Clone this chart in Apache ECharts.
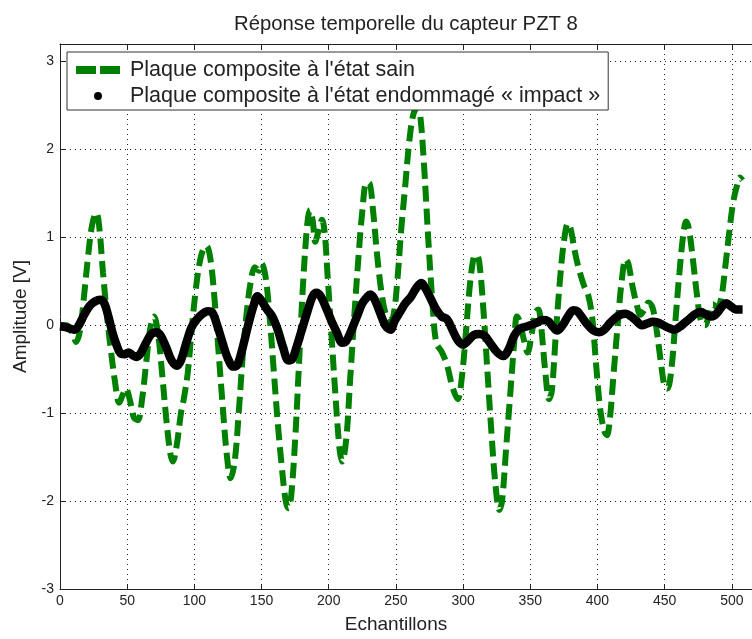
<!DOCTYPE html>
<html>
<head>
<meta charset="utf-8">
<script src="https://cdn.jsdelivr.net/npm/echarts@6/dist/echarts.min.js"></script>
<style>
  html, body { margin: 0; padding: 0; background: #fff; }
  #main { width: 752px; height: 639px; }
</style>
</head>
<body>
<div id="main"></div>
<script>
// échantillons / amplitudes
var healthySamples = [0, 5, 9, 12, 15, 18, 21, 24, 27, 29, 32, 35, 38, 41, 44, 47, 49, 52, 55, 58,
  61, 64, 67, 70, 73, 76, 79, 82, 84, 87, 90, 92, 95, 98, 101, 104, 107, 109, 112, 115,
  118, 121, 124, 127, 130, 133, 136, 139, 142, 145, 148, 150, 153, 156, 159, 162, 165, 168, 170, 172,
  175, 178, 181, 184, 186, 188, 190, 192, 195, 197, 199, 202, 205, 208, 210, 213, 216, 219, 222, 225,
  228, 230, 233, 236, 239, 242, 245, 248, 251, 254, 257, 260, 263, 266, 268, 271, 274, 277, 280, 284,
  288, 292, 296, 299, 302, 305, 308, 310, 312, 315, 318, 321, 324, 327, 329, 332, 335, 338, 340, 342,
  345, 348, 351, 354, 356, 358, 361, 364, 366, 369, 372, 375, 378, 380, 383, 386, 390, 393, 396, 399,
  402, 405, 407, 409, 412, 415, 418, 421, 423, 426, 429, 432, 435, 438, 441, 444, 447, 450, 452, 455,
  458, 461, 464, 466, 468, 471, 474, 477, 480, 483, 486, 489, 492, 495, 498, 501, 504, 506, 508];
var healthyAmp = [0, 0, -0.08, -0.19, -0.05, 0.35, 0.8, 1.15, 1.28, 1.15, 0.6, 0.1, -0.3, -0.65, -0.88, -0.78, -0.72, -0.85, -1.05, -1.08,
  -0.85, -0.45, -0.05, 0.1, -0.1, -0.55, -1.05, -1.45, -1.55, -1.35, -1.0, -0.85, -0.55, -0.05, 0.4, 0.72, 0.88, 0.9, 0.75, 0.3,
  -0.3, -0.9, -1.45, -1.74, -1.55, -1.0, -0.35, 0.15, 0.5, 0.66, 0.62, 0.7, 0.55, 0.1, -0.5, -1.1, -1.6, -2.0, -2.08, -1.95,
  -1.3, -0.4, 0.5, 1.15, 1.31, 1.2, 0.95, 1.05, 1.2, 1.05, 0.6, -0.1, -0.8, -1.4, -1.55, -1.3, -0.6, 0.1, 0.75, 1.3,
  1.62, 1.62, 1.3, 0.8, 0.4, 0.15, 0.05, 0.1, 0.5, 1.1, 1.6, 2.1, 2.4, 2.48, 2.4, 1.8, 1.0, 0.3, -0.2, -0.3,
  -0.45, -0.7, -0.84, -0.6, -0.1, 0.45, 0.78, 0.8, 0.72, 0.2, -0.5, -1.2, -1.8, -2.1, -2.0, -1.4, -0.8, -0.2, 0.1, 0.05,
  -0.15, -0.31, -0.1, 0.15, 0.18, 0, -0.5, -0.84, -0.75, -0.1, 0.5, 0.95, 1.16, 1.1, 0.85, 0.65, 0.45, 0.35, 0.1, -0.45,
  -0.95, -1.2, -1.25, -1.1, -0.55, 0, 0.5, 0.75, 0.7, 0.45, 0.25, 0.12, 0.18, 0.26, 0.2, -0.05, -0.4, -0.7, -0.72, -0.5,
  0.05, 0.6, 1.05, 1.18, 1.1, 0.75, 0.35, 0.05, 0, 0.12, 0.24, 0.2, 0.3, 0.65, 1.05, 1.4, 1.6, 1.68, 1.65];

var damagedSamples = [0, 4, 8, 11, 14, 18, 22, 26, 30, 33, 36, 39, 42, 45, 48, 51, 54, 57, 60, 64,
  68, 72, 75, 79, 83, 87, 90, 94, 98, 102, 106, 110, 113, 117, 121, 125, 129, 132, 136, 140,
  144, 147, 150, 154, 158, 162, 166, 170, 173, 176, 180, 184, 188, 191, 194, 198, 202, 206, 210, 213,
  217, 221, 225, 229, 231, 234, 238, 242, 246, 249, 253, 257, 261, 265, 269, 272, 276, 280, 284, 288,
  292, 296, 300, 304, 308, 312, 316, 320, 325, 330, 334, 338, 342, 346, 350, 355, 359, 363, 367, 370,
  374, 378, 382, 385, 389, 393, 397, 401, 405, 409, 413, 417, 421, 425, 429, 433, 437, 441, 445, 449,
  453, 457, 461, 465, 469, 473, 477, 481, 485, 489, 493, 496, 499, 503, 508];
var damagedAmp = [-0.01, -0.02, -0.04, -0.05, 0, 0.12, 0.22, 0.27, 0.29, 0.25, 0.1, -0.08, -0.22, -0.32, -0.33, -0.31, -0.34, -0.36, -0.32, -0.2,
  -0.1, -0.08, -0.12, -0.25, -0.4, -0.46, -0.4, -0.2, -0.02, 0.07, 0.13, 0.16, 0.15, 0, -0.2, -0.38, -0.47, -0.45, -0.25, 0,
  0.22, 0.33, 0.28, 0.18, 0.1, -0.05, -0.25, -0.4, -0.38, -0.25, -0.05, 0.15, 0.33, 0.37, 0.33, 0.2, 0.05, -0.08, -0.2, -0.18,
  -0.05, 0.1, 0.25, 0.33, 0.35, 0.3, 0.15, 0, -0.05, 0.05, 0.15, 0.25, 0.32, 0.42, 0.48, 0.42, 0.3, 0.18, 0.1, 0.07,
  -0.05, -0.17, -0.22, -0.17, -0.11, -0.1, -0.12, -0.2, -0.3, -0.35, -0.27, -0.12, -0.04, -0.02, 0, 0.03, 0.06, 0.05, -0.02, -0.06,
  0, 0.1, 0.17, 0.16, 0.08, 0, -0.06, -0.08, -0.05, 0.02, 0.08, 0.12, 0.13, 0.1, 0.05, 0, 0.02, 0.04, 0.03, 0,
  -0.03, -0.05, -0.02, 0.03, 0.08, 0.13, 0.15, 0.12, 0.1, 0.14, 0.22, 0.25, 0.22, 0.18, 0.18];

var xTicks = { min: 0, max: 515, step: 50 };
var yTicks = { min: -3, max: 3.2, step: 1 };

var healthyName = "Plaque composite à l'état sain";
var damagedName = "Plaque composite à l'état endommagé « impact »";

function pairs(xs, ys) {
  var out = [];
  for (var i = 0; i < xs.length; i++) out.push([xs[i], ys[i]]);
  return out;
}

var font = "'Liberation Sans', Arial, sans-serif";
var myChart = echarts.init(document.getElementById('main'));

var option = {
  animation: false,
  backgroundColor: '#fff',
  title: {
    text: 'Réponse temporelle du capteur PZT 8',
    left: 229,
    top: 9,
    textStyle: { color: '#222', fontSize: 20.3, fontWeight: 'normal', fontFamily: font }
  },
  legend: {
    orient: 'vertical',
    left: 67,
    top: 52,
    padding: [7, 8, 3, 9],
    itemWidth: 44,
    itemHeight: 8,
    itemGap: 4,
    backgroundColor: '#fff',
    borderColor: '#333',
    borderWidth: 1,
    itemStyle: { borderWidth: 0 },
    textStyle: { color: '#222', fontSize: 21.5, fontFamily: font, padding: [0, 0, 0, 5] },
    data: [
      { name: healthyName, icon: 'path://M0,0H20V8H0Z M24,0H44V8H24Z' },
      { name: damagedName, icon: 'circle' }
    ]
  },
  grid: { left: 60, right: -8, top: 44, bottom: 47 },
  xAxis: [{
    type: 'value',
    min: xTicks.min, max: xTicks.max, interval: xTicks.step,
    name: 'Echantillons',
    nameLocation: 'middle',
    nameGap: 26,
    nameTextStyle: { color: '#222', fontSize: 19, fontFamily: font, padding: [0, 20, 0, 0] },
    axisLine: { onZero: false, lineStyle: { color: '#222', width: 1 } },
    axisTick: { inside: true, length: 5, lineStyle: { color: '#222' } },
    axisLabel: { color: '#222', fontSize: 14, fontFamily: font, margin: 5, showMaxLabel: false },
    splitLine: { show: true, lineStyle: { color: '#222', type: [1, 4], width: 1 } }
  }, {
    type: 'value',
    position: 'top',
    min: xTicks.min, max: xTicks.max, interval: xTicks.step,
    axisLine: { onZero: false, lineStyle: { color: '#222', width: 1 } },
    axisTick: { inside: true, length: 5, lineStyle: { color: '#222' } },
    axisLabel: { show: false },
    splitLine: { show: false }
  }],
  yAxis: {
    type: 'value',
    min: yTicks.min, max: yTicks.max, interval: yTicks.step,
    name: 'Amplitude [V]',
    nameLocation: 'middle',
    nameGap: 30,
    nameTextStyle: { color: '#222', fontSize: 19, fontFamily: font },
    axisLine: { show: true, onZero: false, lineStyle: { color: '#222', width: 1 } },
    axisTick: { show: true, inside: true, length: 5, lineStyle: { color: '#222' } },
    axisLabel: { color: '#222', fontSize: 14, fontFamily: font, margin: 6, showMaxLabel: false },
    splitLine: { show: true, lineStyle: { color: '#222', type: [1, 4], width: 1 } }
  },
  series: [{
    name: healthyName,
    type: 'line',
    data: pairs(healthySamples, healthyAmp),
    smooth: 0.35,
    showSymbol: false,
    symbol: 'none',
    color: '#008000',
    lineStyle: { color: '#008000', width: 6, type: [16, 7], cap: 'butt' },
    z: 2
  }, {
    name: damagedName,
    type: 'line',
    data: pairs(damagedSamples, damagedAmp),
    smooth: 0.35,
    showSymbol: false,
    symbol: 'none',
    color: '#000',
    lineStyle: { color: '#000', width: 8.5 },
    z: 3
  }]
};

myChart.setOption(option);
</script>
</body>
</html>
